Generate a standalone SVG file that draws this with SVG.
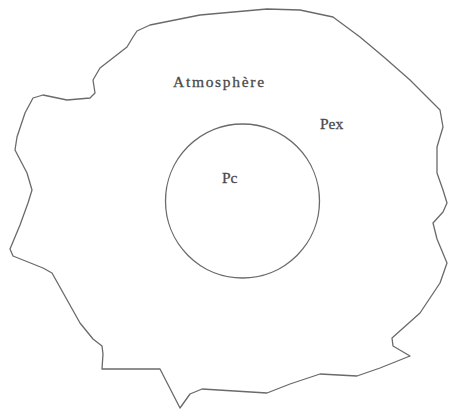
<svg xmlns="http://www.w3.org/2000/svg" width="452" height="413" viewBox="0 0 452 413">
<style>
.ln{fill:none;stroke:#6a6a6a;stroke-width:1.3;stroke-linejoin:round;stroke-linecap:round}
.t{font-family:"Liberation Serif",serif;fill:#4a4a4a;font-size:15.5px;stroke:#4a4a4a;stroke-width:0.3}
</style>
<rect width="452" height="413" fill="#fff"/>
<g id="atmosphere">
<path class="ln" d="M137,31 L150,25 L200,15 L267,9 L300,10 L333,17 L360,37 L385,58 L410,80 L425,95 L440,110 L443,127 L437,147 L437,173 L443,190 L447,203 L443,212 L433,223 L437,239 L447,263 L440,283 L420,313 L392,338 L393,346 L410,356 L380,368 L357,376 L320,374 L290,384 L267,393 L202,389 L190,394 L180,408 L160,369 L102,369 L103,354 L102,346 L93,339 L80,323 L52,273 L43,268 L13,256 L10,249 L20,225 L28,203 L32,190 L27,173 L15,150 L17,137 L25,113 L33,98 L43,95 L67,100 L90,98 L95,93 L93,80 L100,68 L127,47 L133,37 Z"/>
<text class="t" x="173" y="87" letter-spacing="1.7">Atmosphère</text>
<text class="t" x="320" y="129">Pex</text>
</g>
<g id="core">
<circle class="ln" cx="242.5" cy="201" r="77"/>
<text class="t" x="222" y="183">Pc</text>
</g>
</svg>
